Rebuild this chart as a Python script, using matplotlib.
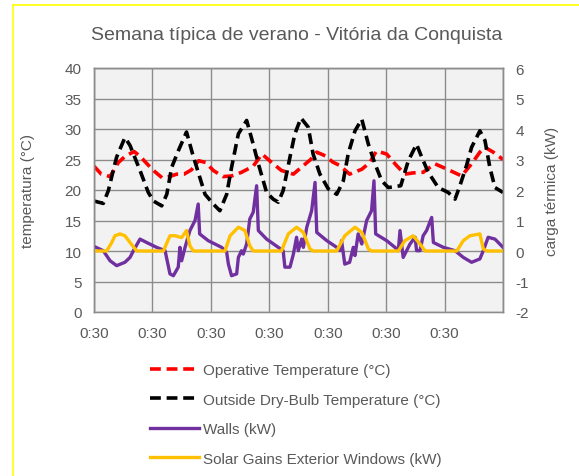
import matplotlib
matplotlib.use("Agg")
import matplotlib.pyplot as plt
from matplotlib.lines import Line2D

# ============================================
# DATOS (horas desde 0:30 del primer dia)
# ============================================

title = "Semana típica de verano - Vitória da Conquista"
day_labels = ["0:30", "0:30", "0:30", "0:30", "0:30", "0:30", "0:30"]

op_h = [0, 3, 6.6, 10, 13, 16.5, 19, 22, 25, 28, 31, 34, 37, 40, 43, 46, 49, 53, 56.5, 60.6,
        65.4, 69, 73, 77, 81.9, 86, 89, 91.5, 95, 98, 101, 105, 110, 113.3, 116, 120.2, 124.3,
        127.7, 131, 135.2, 140, 146.2, 151, 155.1, 158.5, 160.6, 164, 168]
op_temp = [23.9, 22.6, 22.2, 24.5, 25.6, 26.3, 25.5, 24.2, 23.0, 22.0, 22.2, 22.6, 22.6, 23.3,
           24.8, 24.5, 23.2, 22.2, 22.3, 22.9, 23.9, 25.9, 24.5, 23.2, 22.6, 24.0, 25.0, 26.2,
           25.6, 24.6, 24.0, 22.6, 23.4, 24.5, 26.4, 25.9, 24.0, 22.6, 22.8, 22.9, 24.3, 23.2,
           22.3, 24.3, 26.2, 27.0, 26.2, 25.0]

out_h = [0, 3.8, 5.9, 7.9, 9.3, 12.7, 14.8, 18.9, 22.3, 24.4, 27.8, 29.9, 31.9, 34.6, 38, 40.5,
         45.6, 49, 51.7, 54.5, 56.5, 59.3, 62.7, 65.4, 67.5, 70.9, 73.6, 75.7, 77.7, 80.5, 82.5,
         85, 88, 90, 92.8, 96.2, 99.7, 102.4, 104.4, 107.2, 110, 112.7, 115.4, 118.2, 120.9,
         124.3, 126, 129.1, 132.5, 134.6, 137.3, 141.4, 145.5, 148.3, 150.3, 153, 155.1, 158.5,
         160.6, 162.6, 164.7, 168]
out_temp = [18.2, 17.8, 19.9, 23.2, 25.4, 28.6, 27.3, 23.2, 19.6, 18.2, 17.4, 19.3, 23.7, 26.4,
            29.5, 25.9, 19.3, 17.7, 16.6, 19.3, 23.7, 29.2, 31.4, 27.5, 24.3, 19.6, 18.5, 18.0,
            19.9, 25.4, 29.2, 31.8, 30.3, 25.9, 22.6, 20.2, 19.3, 21.5, 25.9, 29.7, 31.6, 27.5,
            24.3, 21.5, 20.4, 20.6, 20.7, 24.8, 27.5, 25.4, 22.9, 20.4, 19.6, 18.5, 20.7, 24.0,
            27.0, 29.7, 28.1, 23.7, 20.4, 19.6]

walls_h = [0, 3.8, 6.6, 9.3, 12.7, 14.8, 16.2, 18.9, 21.6, 25.7, 29.2, 31.2, 32.6, 34.6, 35.3,
           36, 37.4, 39.4, 41.5, 42.8, 43.4, 46.9, 52.4, 54.5, 55.2, 56.5, 58.6, 59.3, 60.6, 61.3,
           62.7, 64, 65.4, 66.8, 67.5, 70.9, 75.7, 77.7, 78.4, 80.5, 81.9, 83.2, 83.9, 85.3, 86,
           87.4, 89.4, 90.8, 91.5, 95.6, 99.7, 101, 101.7, 103, 105, 106.5, 107.2, 108.5, 110,
           112, 114, 115, 115.7, 120.2, 123.6, 125, 125.7, 127, 129.8, 131.9, 132.5, 133.9,
           135.2, 136.6, 138.7, 139.4, 143.5, 148.3, 151.7, 155.1, 158.5, 159.9, 161.9, 164.7, 168]
walls_kw = [0.15, 0.01, -0.32, -0.48, -0.37, -0.21, 0.01, 0.39, 0.28, 0.12, 0.01, -0.75, -0.81,
            -0.53, 0.12, -0.32, 0.12, 0.67, 1.0, 1.54, 0.56, 0.34, 0.12, -0.04, -0.43, -0.81,
            -0.75, -0.21, 0.01, -0.1, 0.23, 1.05, 1.27, 2.14, 0.67, 0.39, 0.12, 0.01, -0.53,
            -0.53, -0.1, 0.45, 0.01, 0.39, 0.12, 0.78, 1.32, 2.25, 0.61, 0.34, 0.12, 0.01, 0.34,
            -0.43, -0.37, 0.12, -0.15, 0.56, 0.23, 1.0, 1.32, 2.3, 0.56, 0.34, 0.12, 0.01, 0.67,
            -0.21, 0.23, 0.45, 0.01, 0.01, 0.5, 0.67, 1.1, 0.28, 0.12, 0.01, -0.21, -0.37, -0.26,
            0.01, 0.45, 0.39, 0.12]

solar_h = [0, 5.2, 7.3, 8.6, 10.7, 12.7, 14.8, 17.5, 28.5, 31.2, 33.3, 36, 38, 39.4, 40.8, 53.8,
           55.9, 59.3, 62, 64, 65.4, 77, 79.8, 83.2, 86, 88.7, 90, 99.7, 103, 107.2, 110, 112.7,
           114, 125, 127.7, 131.1, 133.9, 136, 149, 151.7, 154.4, 158.5, 159.9, 161.3, 168]
solar_kw = [0, 0, 0.28, 0.5, 0.56, 0.5, 0.28, 0, 0, 0.5, 0.5, 0.44, 0.67, 0.17, 0, 0, 0.5, 0.78,
            0.67, 0.17, 0, 0, 0.56, 0.78, 0.61, 0.07, 0, 0, 0.5, 0.78, 0.61, 0.07, 0, 0, 0.34,
            0.5, 0.23, 0, 0, 0.34, 0.5, 0.56, 0.07, 0, 0]

# ============================================
# FIGURA
# ============================================

plt.rcParams['font.family'] = ['Liberation Sans', 'DejaVu Sans']
plt.rcParams['axes.unicode_minus'] = False
txt = "#595959"
grid_c = "#8c8c8c"

fig = plt.figure(figsize=(5.79, 4.77), dpi=100)
ax = fig.add_axes([94 / 579, 1 - 313 / 477, 409 / 579, 244 / 477])
ax.set_facecolor("#f2f2f2")
ax2 = ax.twinx()

l1, = ax.plot(op_h, op_temp, color="#ff0000", lw=2.6, dashes=(3, 1.6))
l2, = ax.plot(out_h, out_temp, color="black", lw=2.6, dashes=(3, 1.6))
l3, = ax2.plot(walls_h, walls_kw, color="#7030a0", lw=2.4)
l4, = ax2.plot(solar_h, solar_kw, color="#ffc000", lw=2.4)

ax.set_xlim(0, 168)
ax.set_ylim(0, 40)
ax2.set_ylim(-2, 6)
ax.set_xticks(range(0, 169, 24))
ax.set_xticklabels(day_labels + [""])
ax.set_yticks(range(0, 41, 5))
ax2.set_yticks(range(-2, 7, 1))

ax.grid(True, color=grid_c, lw=1)
for a in (ax, ax2):
    for s in a.spines.values():
        s.set_color(grid_c)
        s.set_linewidth(1)
    a.tick_params(length=0, labelsize=11, colors=txt)
ax.spines["bottom"].set_color("#c8c8c8")
ax.tick_params(axis="x", pad=10)
ax.tick_params(axis="y", pad=9)
ax2.tick_params(axis="y", pad=9)

ax.set_ylabel("temperatura (°C)", fontsize=11, color=txt)
ax.yaxis.set_label_coords(-0.145, 0.5)
ax2.set_ylabel("carga térmica (kW)", fontsize=11, color=txt)
ax2.yaxis.set_label_coords(1.103, 0.5)

fig.text(0.513, 1 - 35 / 477, title, ha="center", va="center", fontsize=14, color=txt)

labels = ["Operative Temperature (°C)", "Outside Dry-Bulb Temperature (°C)",
          "Walls (kW)", "Solar Gains Exterior Windows (kW)"]
fig.legend([l1, l2, l3, l4], labels, loc="upper left",
           bbox_to_anchor=(150 / 579, 1 - 364 / 477), frameon=False,
           fontsize=11, labelcolor=txt, handlelength=3.2, handletextpad=0.3,
           labelspacing=1.02, borderpad=0, borderaxespad=0)

# borde amarillo del recorte original
fig.add_artist(Line2D([13 / 579, 1], [1 - 6 / 477, 1 - 6 / 477], color="#ffff00", lw=1.2))
fig.add_artist(Line2D([13 / 579, 13 / 579], [0, 1 - 6 / 477], color="#ffff00", lw=1.2))

fig.savefig("out.png", dpi=100)
